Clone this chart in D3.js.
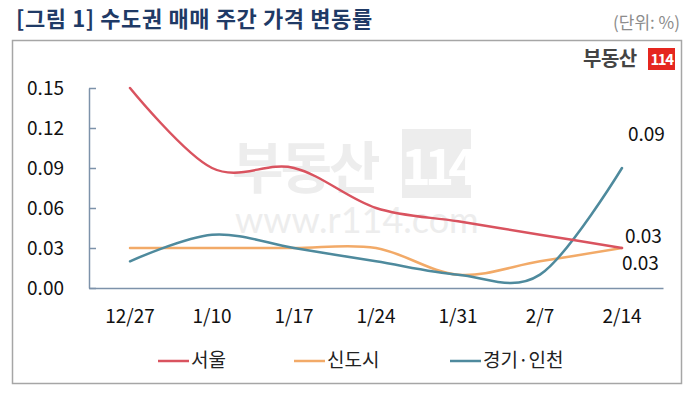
<!DOCTYPE html>
<html><head><meta charset="utf-8">
<script src="https://cdn.jsdelivr.net/npm/d3@7/dist/d3.min.js"></script>
<style>
body{margin:0;background:#fff;}
svg{display:block;font-family:"Noto Sans CJK KR","Noto Sans",sans-serif;}
</style></head>
<body><svg id="c" width="688" height="393"></svg>
<script>
const categories = ["12/27","1/10","1/17","1/24","1/31","2/7","2/14"];
const seoul = [0.15,0.09,0.09,0.06,0.05,0.04,0.03];
const newTown = [0.03,0.03,0.03,0.03,0.01,0.02,0.03];
const gyeonggi = [0.02,0.04,0.03,0.02,0.01,0.01,0.09];
const seriesNames = ["서울","신도시","경기·인천"];
const yTicks = [0,0.03,0.06,0.09,0.12,0.15];
const colors = ["#d9535f","#f2aa68","#4e8a9d"];

const svg = d3.select("#c");
// title
svg.append("text").attr("x",16).attr("y",27).attr("font-size",22).attr("font-weight","bold")
  .attr("letter-spacing",0.6).attr("fill","#1f3a66").text("[그림 1] 수도권 매매 주간 가격 변동률");
svg.append("text").attr("x",680).attr("y",29).attr("text-anchor","end").attr("font-size",17)
  .attr("fill","#8c8c8c").text("(단위: %)");
// frame
svg.append("rect").attr("x",12.5).attr("y",40.5).attr("width",669).attr("height",343)
  .attr("fill","none").attr("stroke","#a6a6a6").attr("stroke-width",1.5);
// logo
svg.append("text").attr("x",583).attr("y",66).attr("font-size",20).attr("font-weight","bold")
  .attr("fill","#444").attr("letter-spacing",-0.5).text("부동산");
svg.append("rect").attr("x",648).attr("y",48).attr("width",27).attr("height",22).attr("fill","#e5261f");
svg.append("text").attr("x",661.5).attr("y",65).attr("text-anchor","middle").attr("font-size",15)
  .attr("font-weight","bold").attr("fill","#fff").attr("letter-spacing",-1.5).text("114");
// watermark
svg.append("text").attr("x",232).attr("y",188).attr("font-size",56).attr("font-weight","bold")
  .attr("fill","#ededed").attr("letter-spacing",-3).text("부동산");
svg.append("rect").attr("x",402).attr("y",129).attr("width",69).attr("height",69).attr("fill","#ededed");
svg.append("text").attr("x",436.5).attr("y",185).attr("text-anchor","middle").attr("font-size",50)
  .attr("font-weight","bold").attr("fill","#fff").attr("letter-spacing",-6).text("114");
svg.append("text").attr("x",235).attr("y",233).attr("font-size",36).attr("fill","#ededed")
  .attr("font-family","Lato, 'Open Sans', sans-serif").text("www.r114.com");

const x = d3.scaleBand().domain(categories).range([89,663]).padding(0);
const y = d3.scaleLinear().domain([0,0.15]).range([288,88]);
const cx = c => x(c) + x.bandwidth()/2;

const axisColor = "#7d92aa";
const gy = svg.append("g").attr("transform","translate(89,0)")
  .call(d3.axisLeft(y).tickValues(yTicks).tickFormat(d3.format(".2f")).tickSizeInner(-7).tickSizeOuter(0).tickPadding(25));
gy.selectAll("text").attr("font-size",19).attr("fill","#111").attr("font-family","'Noto Sans CJK KR',sans-serif");
gy.selectAll("line,path").attr("stroke",axisColor).attr("stroke-width",1.5);

const gx = svg.append("g").attr("transform","translate(0,288)")
  .call(d3.axisBottom(x).tickSize(0).tickPadding(22));
gx.selectAll("text").attr("font-size",19).attr("fill","#111").attr("font-family","'Noto Sans CJK KR',sans-serif");
gx.select(".domain").attr("stroke",axisColor).attr("stroke-width",1.5);

const line = d3.line().x((d,i)=>cx(categories[i])).y(d=>y(d)).curve(d3.curveCatmullRom.alpha(0));
const all = [seoul,newTown,gyeonggi];
[1,2,0].forEach(k=>{
  svg.append("path").datum(all[k]).attr("d",line).attr("fill","none")
    .attr("stroke",colors[k]).attr("stroke-width",2.5).attr("stroke-linecap","round");
});

// end labels
const last = categories[categories.length-1];
const lbl = (v,dx,dy)=>svg.append("text").attr("x",cx(last)+dx).attr("y",y(v)+dy)
  .attr("font-size",19).attr("fill","#111").text(d3.format(".2f")(v));
lbl(gyeonggi[6],6,-27);
lbl(seoul[6],3,-5);
lbl(newTown[6],0,22);

// legend
const legX = [158,294,450];
seriesNames.forEach((n,i)=>{
  svg.append("line").attr("x1",legX[i]).attr("x2",legX[i]+31).attr("y1",361).attr("y2",361)
    .attr("stroke",colors[i]).attr("stroke-width",2.5);
  svg.append("text").attr("x",legX[i]+33).attr("y",367).attr("font-size",19).attr("fill","#222").text(n);
});
</script></body></html>
